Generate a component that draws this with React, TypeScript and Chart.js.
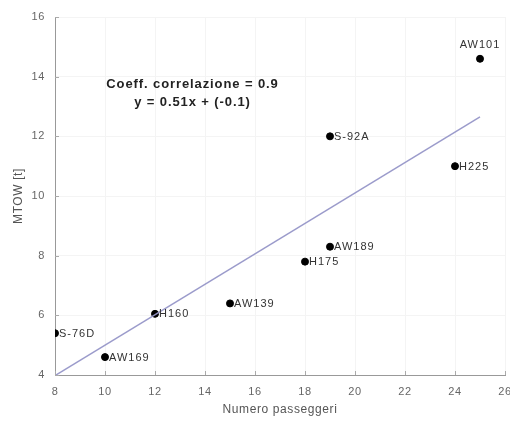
import React, { useEffect, useRef } from "react";
import { Chart, registerables } from "chart.js";

Chart.register(...registerables);

const names = ["AW101", "S-92A", "H225", "AW189", "H175", "AW139", "H160", "S-76D", "AW169"];
const passengers = [25, 19, 24, 19, 18, 15, 12, 8, 10];
const mtow = [14.6, 12.0, 11.0, 8.3, 7.8, 6.4, 6.05, 5.4, 4.6];
const fitSlope = 0.51;
const fitIntercept = -0.1;
const fitRange = [8, 25];
const xTicks = [8, 10, 12, 14, 16, 18, 20, 22, 24, 26];
const yTicks = [4, 6, 8, 10, 12, 14, 16];
const annotation = ["Coeff. correlazione = 0.9", "y = 0.51x + (-0.1)"];
const annotationPos = { x: 13.5, y: [13.73, 13.13] };

const FONT = "'Liberation Sans', Arial, sans-serif";

const spacingPlugin = {
  id: "spacing",
  beforeDraw(chart: any) {
    (chart.ctx as any).letterSpacing = "0.6px";
  },
};

const overlayPlugin = {
  id: "overlay",
  afterDatasetsDraw(chart: any) {
    const { ctx, scales, chartArea } = chart;
    const xs = scales.x;
    const ys = scales.y;
    ctx.save();
    ctx.strokeStyle = "#aaa";
    ctx.lineWidth = 1;
    xTicks.forEach((t) => {
      const px = Math.round(xs.getPixelForValue(t)) + 0.5;
      ctx.beginPath();
      ctx.moveTo(px, chartArea.bottom);
      ctx.lineTo(px, chartArea.bottom - 4);
      ctx.stroke();
    });
    yTicks.forEach((t) => {
      const py = Math.round(ys.getPixelForValue(t)) + 0.5;
      ctx.beginPath();
      ctx.moveTo(chartArea.left, py);
      ctx.lineTo(chartArea.left + 4, py);
      ctx.stroke();
    });
    ctx.fillStyle = "#333";
    ctx.font = `11px ${FONT}`;
    (ctx as any).letterSpacing = "1px";
    names.forEach((n, i) => {
      const px = xs.getPixelForValue(passengers[i]);
      const py = ys.getPixelForValue(mtow[i]);
      if (n === "AW101") {
        ctx.textAlign = "center";
        ctx.textBaseline = "bottom";
        ctx.fillText(n, px, py - 8);
      } else {
        ctx.textAlign = "left";
        ctx.textBaseline = "middle";
        ctx.fillText(n, px + 4, py + 0.5);
      }
    });
    ctx.fillStyle = "#222";
    ctx.font = `bold 13px ${FONT}`;
    (ctx as any).letterSpacing = "0.9px";
    ctx.textAlign = "center";
    ctx.textBaseline = "middle";
    annotation.forEach((line, i) => {
      ctx.fillText(line, xs.getPixelForValue(annotationPos.x), ys.getPixelForValue(annotationPos.y[i]));
    });
    ctx.restore();
  },
};

export default function App() {
  const ref = useRef<HTMLCanvasElement | null>(null);
  useEffect(() => {
    document.body.style.margin = "0";
    const points = passengers.map((p, i) => ({ x: p, y: mtow[i] }));
    const fit = fitRange.map((x) => ({ x, y: fitSlope * x + fitIntercept }));
    const chart = new Chart(ref.current!, {
      type: "scatter",
      data: {
        datasets: [
          {
            type: "line",
            data: fit,
            borderColor: "rgba(150,150,200,0.95)",
            borderWidth: 1.5,
            pointRadius: 0,
            fill: false,
          } as any,
          {
            data: points,
            backgroundColor: "#000",
            borderColor: "#000",
            pointRadius: 3.5,
          },
        ],
      },
      options: {
        animation: false,
        responsive: false,
        maintainAspectRatio: false,
        layout: { padding: { top: 17, right: 5, left: 0, bottom: 0 } },
        plugins: { legend: { display: false }, tooltip: { enabled: false } },
        scales: {
          x: {
            type: "linear",
            min: 8,
            max: 26,
            afterBuildTicks: (s: any) => {
              s.ticks = xTicks.map((v) => ({ value: v }));
            },
            afterFit: (s: any) => {
              s.height = 46;
              s.paddingLeft = 0;
              s.paddingRight = 0;
            },
            ticks: { color: "#666", font: { family: FONT, size: 11 }, padding: 10, maxRotation: 0 },
            grid: { color: "#f4f4f4", drawTicks: false },
            border: { color: "#999", width: 1 },
            title: {
              display: true,
              text: "Numero passeggeri",
              color: "#555",
              font: { family: FONT, size: 12 },
              padding: { top: 2 },
            },
          },
          y: {
            type: "linear",
            min: 4,
            max: 16,
            afterBuildTicks: (s: any) => {
              s.ticks = yTicks.map((v) => ({ value: v }));
            },
            afterFit: (s: any) => {
              s.width = 55;
              s.paddingTop = 0;
              s.paddingBottom = 0;
            },
            ticks: { color: "#666", font: { family: FONT, size: 11 }, padding: 10 },
            grid: { color: "#f4f4f4", drawTicks: false },
            border: { color: "#999", width: 1 },
            title: {
              display: true,
              text: "MTOW [t]",
              color: "#555",
              font: { family: FONT, size: 12 },
              padding: { top: 11, bottom: 4 },
            },
          },
        },
      },
      plugins: [spacingPlugin, overlayPlugin],
    });
    return () => chart.destroy();
  }, []);
  return (
    <div style={{ position: "absolute", left: 0, top: 0, width: 510, height: 421, background: "#fff" }}>
      <canvas ref={ref} width={510} height={421} style={{ width: 510, height: 421 }} />
    </div>
  );
}
